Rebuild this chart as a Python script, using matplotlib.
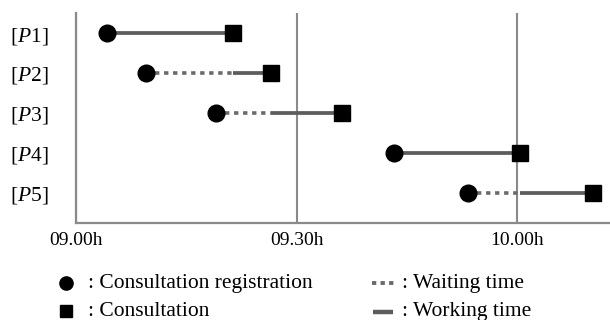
import matplotlib.pyplot as plt
from matplotlib.lines import Line2D

plt.rcParams['font.family'] = ['Liberation Serif', 'DejaVu Serif']
plt.rcParams['mathtext.fontset'] = 'custom'
plt.rcParams['mathtext.rm'] = 'Liberation Serif'
plt.rcParams['mathtext.it'] = 'Liberation Serif:italic'

# minutes after 09.00h
patients = ['P1', 'P2', 'P3', 'P4', 'P5']
registration = [4.25, 9.45, 19.05, 43.3, 53.3]
wait_end = [4.25, 21.3, 26.5, 43.3, 60.3]
consultation = [21.3, 26.5, 36.1, 60.4, 70.3]
tick_pos = [0, 30, 60]
tick_labels = ['09.00h', '09.30h', '10.00h']

solid_col = '#5c5c5c'
dot_col = '#6a6a6a'
axis_col = '#8a8a8a'

fig = plt.figure(figsize=(6.1, 3.2), dpi=100)
ax = fig.add_axes([0.1246, 0.302, 0.8754, 0.657])

ys = list(range(1, len(patients) + 1))
for y, r, w, c in zip(ys, registration, wait_end, consultation):
    if w > r:
        ax.plot([r, w], [y, y], color=dot_col, lw=2.6,
                linestyle=(0, (1.2, 1.3)), solid_capstyle='butt', zorder=2)
    ax.plot([w, c], [y, y], color=solid_col, lw=2.7,
            solid_capstyle='butt', zorder=2)
ax.plot(registration, ys, 'o', color='black', ms=12, zorder=3)
ax.plot(consultation, ys, 's', color='black', ms=12, zorder=3)

ax.set_xlim(0, 72.6)
ax.set_ylim(5.77, 0.49)
ax.set_xticks(tick_pos)
ax.set_xticklabels(tick_labels, fontsize=14)
ax.set_yticks(ys)
ax.set_yticklabels([r'[$\mathit{%s}$]' % p for p in patients], fontsize=15.5)
ax.tick_params(axis='x', length=0, pad=6)
ax.tick_params(axis='y', length=0, pad=20)
ax.grid(axis='x', color=axis_col, lw=1.5)
ax.set_axisbelow(True)
for s in ['top', 'right']:
    ax.spines[s].set_visible(False)
for s in ['left', 'bottom']:
    ax.spines[s].set_color(axis_col)
    ax.spines[s].set_linewidth(1.6)

# legend drawn by hand below the axes
fs = 15.5
fig.add_artist(Line2D([0.1077], [0.1147], marker='o', color='black', ms=9.5,
                      transform=fig.transFigure))
fig.add_artist(Line2D([0.1077], [0.028], marker='s', color='black', ms=9,
                      transform=fig.transFigure))
fig.add_artist(Line2D([0.61, 0.6475], [0.1147, 0.1147], color=dot_col, lw=2.8,
                      linestyle=(0, (1.1, 1.1)), transform=fig.transFigure))
fig.add_artist(Line2D([0.611, 0.645], [0.026, 0.026], color=solid_col, lw=3.2,
                      solid_capstyle='butt', transform=fig.transFigure))
fig.text(0.1443, 0.099, ': Consultation registration', fontsize=fs, va='baseline')
fig.text(0.1443, 0.013, ': Consultation', fontsize=fs, va='baseline')
fig.text(0.6585, 0.099, ': Waiting time', fontsize=fs, va='baseline')
fig.text(0.6585, 0.013, ': Working time', fontsize=fs, va='baseline')

fig.savefig('out.png', dpi=100)
